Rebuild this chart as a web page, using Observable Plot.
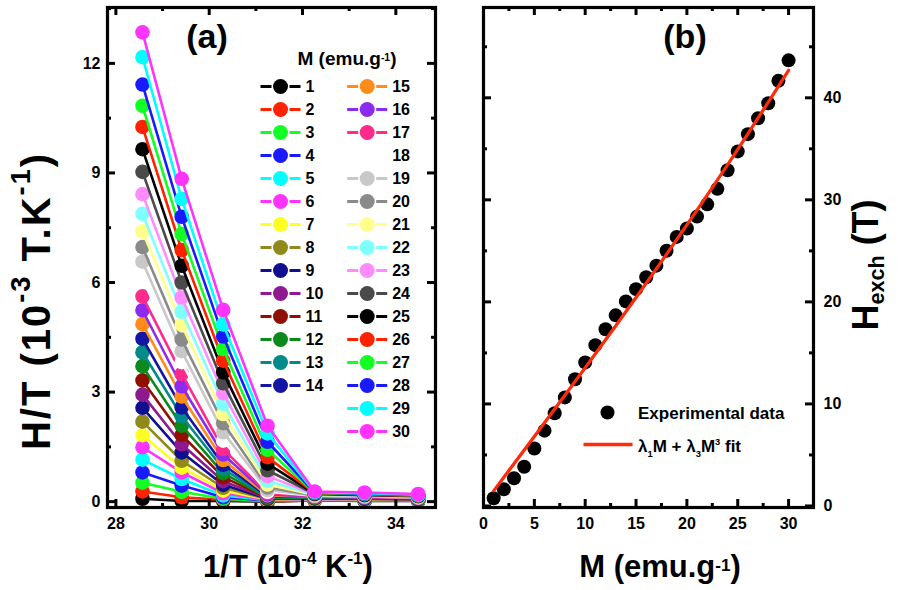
<!DOCTYPE html>
<html><head><meta charset="utf-8">
<script src="https://cdn.jsdelivr.net/npm/d3@7"></script>
<script src="https://cdn.jsdelivr.net/npm/@observablehq/plot@0.6"></script>
<style>
body{margin:0;background:#fff;}
#wrap{position:relative;width:901px;height:590px;overflow:hidden;background:#fff;font-family:"Liberation Sans",Arial,sans-serif;font-weight:bold;color:#000;}
#wrap svg{position:absolute;overflow:visible;}
.abs{position:absolute;white-space:nowrap;line-height:1;}
.c{transform:translate(-50%,-50%);}
.r{transform:translate(-50%,-50%) rotate(-90deg);}
.l{transform:translate(0,-50%);}
sup{font-size:0.55em;vertical-align:0.75em;line-height:0;}
sup.low{vertical-align:0.35em;}
sub{font-size:0.6em;vertical-align:-0.3em;line-height:0;}
</style></head><body><div id="wrap"></div>
<script>
// ---------- data: panel (a) ----------
const seriesM = [1,2,3,4,5,6,7,8,9,10,11,12,13,14,15,16,17,18,19,20,21,22,23,24,25,26,27,28,29,30];
const invT = [28.57, 29.41, 30.30, 31.25, 32.26, 33.33, 34.48]; // 1/T (10^-4 K^-1)
const h350 = [0.08,0.28,0.52,0.80,1.15,1.49,1.82,2.19,2.57,2.93,3.32,3.71,4.09,4.46,4.86,5.24,5.62,6.10,6.57,6.97,7.40,7.88,8.42,9.03,9.65,10.26,10.84,11.42,12.17,12.85];
const h340 = [0.02,0.12,0.27,0.44,0.62,0.80,0.93,1.12,1.35,1.57,1.83,2.08,2.34,2.58,2.88,3.16,3.50,3.82,4.12,4.44,4.84,5.20,5.59,6.00,6.46,6.89,7.33,7.80,8.29,8.84];
const h330 = [0.02,0.05,0.08,0.12,0.17,0.23,0.30,0.38,0.46,0.56,0.67,0.78,0.90,1.01,1.14,1.29,1.44,1.67,1.90,2.15,2.40,2.68,2.97,3.24,3.54,3.86,4.18,4.52,4.85,5.25];
const h320 = [0.00,0.01,0.02,0.03,0.04,0.05,0.06,0.07,0.08,0.09,0.10,0.11,0.13,0.15,0.17,0.20,0.23,0.27,0.32,0.39,0.47,0.57,0.70,0.86,1.04,1.22,1.42,1.64,1.87,2.08];
const h310 = [0.03,0.035,0.045,0.055,0.06,0.07,0.08,0.085,0.09,0.10,0.105,0.11,0.12,0.13,0.135,0.14,0.15,0.16,0.165,0.17,0.18,0.19,0.20,0.21,0.22,0.23,0.24,0.25,0.26,0.28];
const h300 = [0.02,0.03,0.04,0.045,0.05,0.06,0.065,0.07,0.08,0.085,0.09,0.10,0.105,0.11,0.12,0.125,0.13,0.14,0.145,0.15,0.16,0.165,0.17,0.18,0.19,0.20,0.21,0.22,0.23,0.25];
const h290 = [0.02,0.025,0.03,0.035,0.04,0.05,0.055,0.06,0.065,0.07,0.075,0.08,0.085,0.09,0.10,0.105,0.11,0.115,0.12,0.125,0.13,0.14,0.145,0.15,0.16,0.165,0.17,0.18,0.19,0.21];
const seriesColors = ["#000000","#FF2200","#11FF22","#1A1AFF","#00FFFF","#FF33FF","#FFFF22","#8F8A1A","#0F0F8F","#8F1A8F","#8F1000","#0A8A1A","#008A8A","#1515A5","#FF8C1A","#8C2AF0","#FF2A8C","#FFFFFF","#C8C8C8","#8A8A8A","#FFFF8C","#80FFFF","#FF8CFF","#4A4A4A","#000000","#FF2200","#11FF22","#1A1AFF","#00FFFF","#FF33FF"];
const aXTicks = [28,30,32,34], aXMinor = [29,31,33];
const aYTicks = [0,3,6,9,12], aYMinor = [1.5,4.5,7.5,10.5,13.5];

// ---------- data: panel (b) ----------
const bM = [1,2,3,4,5,6,7,8,9,10,11,12,13,14,15,16,17,18,19,20,21,22,23,24,25,26,27,28,29,30];
const bHexch = [0.76,1.64,2.71,3.85,5.63,7.38,9.08,10.64,12.42,14.07,15.76,17.32,18.68,20.05,21.25,22.42,23.55,25.01,26.37,27.19,28.36,29.56,31.08,32.90,34.75,36.44,38.00,39.46,41.66,43.67];
const fitM = [1,5,10,15,20,25,30];
const fitH = [1.48,6.81,13.55,20.43,27.54,34.94,42.70];
const bXTicks = [0,5,10,15,20,25,30], bXMinor = [2.5,7.5,12.5,17.5,22.5,27.5];
const bYTicks = [0,10,20,30,40], bYMinor = [5,15,25,35,45];

const wrap = document.getElementById("wrap");
const baseStyle = {fontFamily:"Liberation Sans, Arial, sans-serif", fontSize:"16px", fontWeight:"bold", background:"transparent", color:"#000", overflow:"visible"};

function frameTicks(xMaj, xMin, yMaj, yMin, iw, ih) {
  const sw = 3;
  return [
    Plot.ruleX(xMaj, {insetTop: ih - 8, strokeWidth: sw}),
    Plot.ruleX(xMaj, {insetBottom: ih - 8, strokeWidth: sw}),
    Plot.ruleX(xMin, {insetTop: ih - 4, strokeWidth: sw}),
    Plot.ruleX(xMin, {insetBottom: ih - 4, strokeWidth: sw}),
    Plot.ruleY(yMaj, {insetRight: iw - 8, strokeWidth: sw}),
    Plot.ruleY(yMaj, {insetLeft: iw - 8, strokeWidth: sw}),
    Plot.ruleY(yMin, {insetRight: iw - 4, strokeWidth: sw}),
    Plot.ruleY(yMin, {insetLeft: iw - 4, strokeWidth: sw}),
    Plot.frame({strokeWidth: 3.2})
  ];
}
function place(el, left, top) { el.style.left = left + "px"; el.style.top = top + "px"; wrap.appendChild(el); }

// ---------- panel (a) ----------
const cols = [h350, h340, h330, h320, h310, h300, h290];
const seriesMarks = [];
seriesM.forEach((m, i) => {
  const rows = invT.map((x, j) => ({x, y: cols[j][i], m}));
  const c = seriesColors[i];
  seriesMarks.push(Plot.line(rows, {x: "x", y: "y", stroke: c, strokeWidth: 2.6}));
  seriesMarks.push(Plot.dot(rows, {x: "x", y: "y", r: 7.3, fill: c}));
});
const aW = 450, aH = 590, aML = 107, aMR = 15, aMT = 7, aMB = 83;
const plotA = Plot.plot({
  width: aW, height: aH, marginLeft: aML, marginRight: aMR, marginTop: aMT, marginBottom: aMB,
  style: baseStyle,
  x: {domain: [27.82, 34.85]},
  y: {domain: [-0.16, 13.53]},
  marks: [
    ...seriesMarks,
    ...frameTicks(aXTicks, aXMinor, aYTicks, aYMinor, aW - aML - aMR, aH - aMT - aMB),
    Plot.axisX(aXTicks, {anchor: "bottom", tickSize: 0, tickPadding: 10, label: null, fontSize: 16}),
    Plot.axisY(aYTicks, {anchor: "left", tickSize: 0, tickPadding: 7, label: null, fontSize: 16})
  ]
});
plotA.style.left = "0px"; plotA.style.top = "0px";
wrap.appendChild(plotA);

// legend for (a)
const legendRows = seriesM.map((m, i) => ({col: m <= 14 ? 0 : 1, row: m <= 14 ? i : i - 14, label: String(m), color: seriesColors[i]}));
const segSymbol = (a, b) => ({draw(ctx) { ctx.moveTo(-b, 0); ctx.lineTo(-a, 0); ctx.moveTo(a, 0); ctx.lineTo(b, 0); }});
const legA = Plot.plot({
  width: 200, height: 460, margin: 0,
  style: baseStyle,
  x: {domain: [0, 1], range: [30, 116.7], axis: null},
  y: {domain: [0, 15], range: [86, 431], axis: null},
  marks: [
    Plot.dot(legendRows, {x: "col", y: "row", symbol: segSymbol(9, 20), fill: "none", stroke: "color", strokeWidth: 3}),
    Plot.dot(legendRows, {x: "col", y: "row", r: 7.5, fill: "color"}),
    Plot.text(legendRows, {x: "col", y: "row", text: "label", dx: 25, textAnchor: "start", fontSize: 16})
  ]
});
legA.style.left = "250px"; legA.style.top = "0px";
wrap.appendChild(legA);

// ---------- panel (b) ----------
const bRows = bM.map((m, i) => ({m, h: bHexch[i]}));
const fitRows = fitM.map((m, i) => ({m, h: fitH[i]}));
const bW = 451, bHt = 590, bML = 33, bMR = 88, bMT = 7, bMB = 83;
const plotB = Plot.plot({
  width: bW, height: bHt, marginLeft: bML, marginRight: bMR, marginTop: bMT, marginBottom: bMB,
  style: baseStyle,
  x: {domain: [0, 32.45]},
  y: {domain: [-0.15, 48.85]},
  marks: [
    Plot.dot(bRows, {x: "m", y: "h", r: 7, fill: "#000"}),
    Plot.line(fitRows, {x: "m", y: "h", stroke: "#FF2A0A", strokeWidth: 3.2, curve: "natural"}),
    ...frameTicks(bXTicks, bXMinor, bYTicks, bYMinor, bW - bML - bMR, bHt - bMT - bMB),
    Plot.axisX(bXTicks, {anchor: "bottom", tickSize: 0, tickPadding: 10, label: null, fontSize: 16}),
    Plot.axisY(bYTicks, {anchor: "right", tickSize: 0, tickPadding: 10, label: null, fontSize: 16})
  ]
});
plotB.style.left = "450px"; plotB.style.top = "0px";
wrap.appendChild(plotB);

// legend for (b)
const legBItems = [{kind: "Experimental data"}, {kind: "fit"}];
const legB = Plot.plot({
  width: 240, height: 60, margin: 0, style: baseStyle,
  marks: [
    Plot.dot(legBItems.slice(0, 1), {frameAnchor: "top-left", dx: 32, dy: 17, r: 7, fill: "#000"}),
    Plot.dot(legBItems.slice(1), {frameAnchor: "top-left", dx: 32.5, dy: 49, symbol: segSymbol(0, 24.5), fill: "none", stroke: "#FF2A0A", strokeWidth: 3.5})
  ]
});
legB.style.left = "575px"; legB.style.top = "395px";
wrap.appendChild(legB);

// ---------- text ----------
function txt(html, cls, size, left, top) {
  const d = document.createElement("div");
  d.className = "abs " + cls; d.style.fontSize = size + "px"; d.innerHTML = html;
  place(d, left, top); return d;
}
txt("(a)", "c", 34, 207, 36);
txt("(b)", "c", 34, 685, 36);
txt('M (emu.g<sup class="low">-1</sup>)', "c", 19, 347, 58);
txt('1/T (10<sup>-4</sup> K<sup>-1</sup>)', "c", 31, 288, 566);
const yt = txt('H/T (10<sup style="font-size:0.68em">-3</sup> T.K<sup style="font-size:0.68em">-1</sup>)', "r", 40, 36, 301);
yt.style.letterSpacing = "2px";
txt('M (emu.g<sup class="low">-1</sup>)', "c", 31, 660, 566);
txt('H<sub>exch</sub> (T)', "r", 36, 866, 265);
txt('Experimental data', "l", 17, 638, 413);
txt('λ<sub style="font-size:0.55em;vertical-align:-0.6em">1</sub>M + λ<sub style="font-size:0.55em;vertical-align:-0.6em">3</sub>M<sup style="font-size:0.55em">3</sup> fit', "l", 17, 638, 446);
</script></body></html>
